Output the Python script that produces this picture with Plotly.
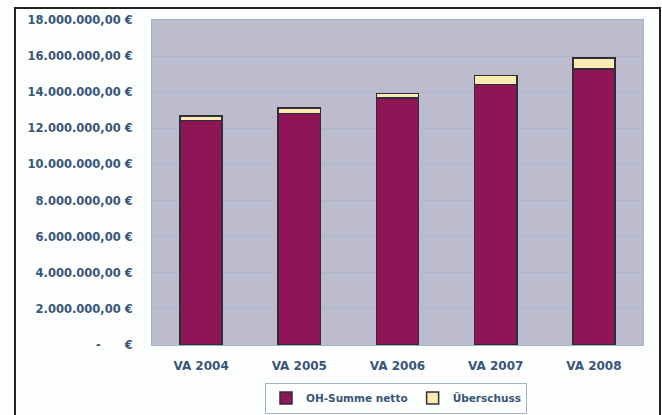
import plotly.graph_objects as go

categories = ["VA 2004", "VA 2005", "VA 2006", "VA 2007", "VA 2008"]
oh_summe_netto = [12440000, 12830000, 13680000, 14440000, 15280000]
ueberschuss = [230000, 300000, 250000, 500000, 610000]
y_tick_vals = [0, 2000000, 4000000, 6000000, 8000000, 10000000, 12000000, 14000000, 16000000, 18000000]
y_tick_text = ["-\u00a0\u00a0\u00a0\u00a0\u00a0\u00a0€", "2.000.000,00 €", "4.000.000,00 €", "6.000.000,00 €", "8.000.000,00 €",
               "10.000.000,00 €", "12.000.000,00 €", "14.000.000,00 €", "16.000.000,00 €", "18.000.000,00 €"]

W, H = 662, 415
L, R, T, B = 152, 643, 20, 345

def px_x(p):
    return (p - L) / (R - L)

def px_y(p):
    return (B - p) / (B - T)

TXT = "#38557A"
FONT = "DejaVu Sans"

fig = go.Figure()
fig.add_trace(go.Bar(x=categories, y=oh_summe_netto, name="OH-Summe netto",
                     marker=dict(color="#8E1656", line=dict(color="#2E2E3A", width=1.5))))
fig.add_trace(go.Bar(x=categories, y=ueberschuss, name="Überschuss",
                     marker=dict(color="#FCEBB0", line=dict(color="#2E2E3A", width=1.5))))

fig.update_layout(
    width=W, height=H,
    barmode="stack", bargap=0.57,
    margin=dict(l=L, r=W - R, t=T, b=H - B, autoexpand=False),
    paper_bgcolor="#FDFEFE", plot_bgcolor="#BDBCCF",
    font=dict(family=FONT, size=11, color=TXT, weight="bold"),
    xaxis=dict(showgrid=False, ticks="", showline=True, linecolor="#9FB4CC", linewidth=1,
               tickfont=dict(family=FONT, size=12, color=TXT, weight="bold"),
               ticklabelstandoff=10, mirror=True, automargin=False),
    yaxis=dict(range=[0, 18000000], tickvals=y_tick_vals, ticktext=y_tick_text,
               gridcolor="#AEB6CC", gridwidth=1, showline=True, linecolor="#9FB4CC",
               mirror=True, zeroline=False, ticks="", ticklabelstandoff=16, automargin=False,
               tickfont=dict(family=FONT, size=11.5, color=TXT, weight="bold")),
    legend=dict(orientation="h", x=px_x(396), xanchor="center", y=px_y(398), yanchor="middle",
                bordercolor="#9FB4CC", borderwidth=1, bgcolor="#FDFEFE",
                font=dict(family=FONT, size=10.5, color=TXT, weight="bold"),
                itemwidth=30, traceorder="normal"),
    shapes=[dict(type="rect", xref="paper", yref="paper",
                 x0=px_x(15), x1=px_x(660), y0=px_y(430), y1=px_y(8),
                 line=dict(color="#222222", width=2), fillcolor="rgba(0,0,0,0)", layer="below")],
)

fig.write_html("out.html")
